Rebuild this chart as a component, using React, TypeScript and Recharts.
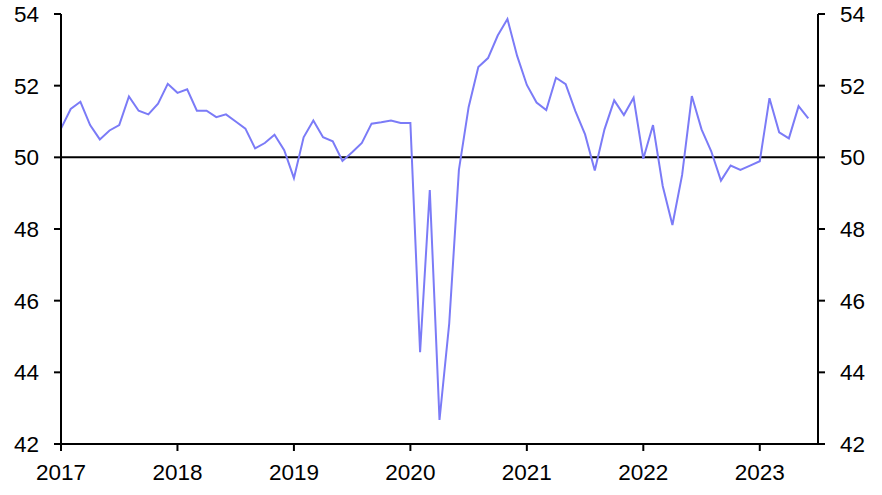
import { LineChart, Line, XAxis, YAxis, ReferenceLine } from 'recharts';

// monthly index, Jan 2017 .. Jun 2023
const yearLabels = ['2017', '2018', '2019', '2020', '2021', '2022', '2023'];
const yearTicks = [0, 12, 24, 36, 48, 60, 72];
const valueTicks = [42, 44, 46, 48, 50, 52, 54];

const v2017 = [50.8, 51.35, 51.55, 50.9, 50.5, 50.75, 50.9, 51.7, 51.3, 51.2, 51.5, 52.05];
const v2018 = [51.8, 51.9, 51.3, 51.3, 51.12, 51.2, 51.0, 50.8, 50.25, 50.4, 50.63, 50.2];
const v2019 = [49.42, 50.56, 51.03, 50.56, 50.45, 49.9, 50.14, 50.4, 50.94, 50.98, 51.03, 50.96];
const v2020 = [50.96, 44.56, 49.09, 42.67, 45.36, 49.65, 51.4, 52.52, 52.77, 53.4, 53.86, 52.83];
const v2021 = [52.02, 51.53, 51.32, 52.22, 52.04, 51.29, 50.64, 49.63, 50.78, 51.59, 51.18, 51.66];
const v2022 = [49.96, 50.9, 49.2, 48.11, 49.51, 51.71, 50.78, 50.17, 49.35, 49.77, 49.65, 49.77];
const v2023 = [49.89, 51.65, 50.7, 50.53, 51.43, 51.09];

const values = [...v2017, ...v2018, ...v2019, ...v2020, ...v2021, ...v2022, ...v2023];
const data = values.map((v, i) => ({ m: i, v, r: v }));

const tickStyle = { fill: '#000', fontSize: 22.5, fontFamily: '"Liberation Sans", Arial, sans-serif' };

export default function App() {
  return (
    <div style={{ position: 'absolute', left: 0, top: 0 }}>
      <LineChart width={882} height={495} data={data} margin={{ top: 14, right: 4, bottom: 21, left: 1 }}>
        <XAxis
          dataKey="m"
          type="number"
          domain={[0, 78]}
          ticks={yearTicks}
          tickFormatter={(m: number) => yearLabels[m / 12]}
          stroke="#000"
          strokeWidth={2}
          tickSize={7}
          tickMargin={13}
          tick={tickStyle}
          height={30}
          interval={0}
        />
        <YAxis
          yAxisId="left"
          domain={[42, 54]}
          ticks={valueTicks}
          stroke="#000"
          strokeWidth={2}
          tickSize={7}
          tickMargin={15}
          tick={tickStyle}
          width={60}
          interval={0}
        />
        <YAxis
          yAxisId="right"
          orientation="right"
          type="number"
          domain={[42, 54]}
          ticks={valueTicks}
          stroke="#000"
          strokeWidth={2}
          tickSize={7}
          tickMargin={15}
          tick={tickStyle}
          width={60}
          interval={0}
        />
        <ReferenceLine yAxisId="left" y={50} stroke="#000" strokeWidth={2} />
        <Line
          yAxisId="left"
          dataKey="v"
          stroke="#7b7bf7"
          strokeWidth={2}
          dot={false}
          isAnimationActive={false}
        />
        <Line yAxisId="right" dataKey="r" stroke="none" dot={false} legendType="none" isAnimationActive={false} />
      </LineChart>
    </div>
  );
}
